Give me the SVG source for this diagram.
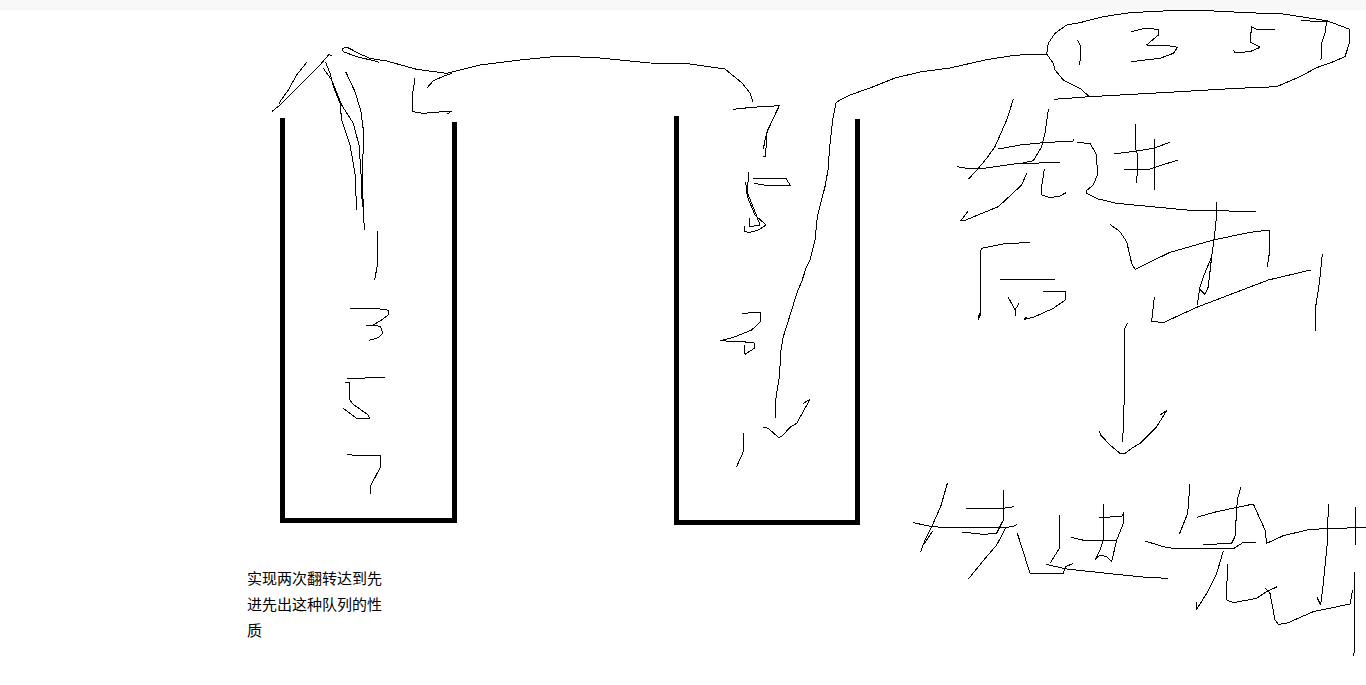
<svg xmlns="http://www.w3.org/2000/svg" width="1366" height="685" viewBox="0 0 1366 685">
<style>
.ink{fill:none;stroke:#000;stroke-width:1;vector-effect:non-scaling-stroke;stroke-linejoin:round;shape-rendering:crispEdges}
.bucket{fill:none;stroke:#000;stroke-width:5;stroke-linejoin:miter;shape-rendering:crispEdges}
.note{font-family:"Noto Sans CJK SC","Liberation Sans",sans-serif;font-size:15px;fill:#000}
</style>
<rect x="0" y="0" width="1366" height="685" fill="#fff"/>
<rect x="0" y="0" width="1366" height="10" fill="#f8f8f8"/>
<g id="left-stack">
<path class="bucket" d="M282.500,118V520.300H454.500V122"/>
<g transform="translate(230,220) scale(.33333)">
<path class="ink" d="M442,33L443,130 434,180"/>
<path class="ink" d="M360,265L445,266 476,271 474,285 455,300 430,315 408,316M430,315L452,320 458,340 445,353 418,361"/>
<path class="ink" d="M351,476L435,473 465,472M345,488L358,488 360,540 368,552 415,585 418,595 380,595 340,565"/>
<path class="ink" d="M351,703L372,706 452,706 451,742 423,795 421,822"/>
</g>
</g>
<g id="right-stack">
<path class="bucket" d="M676.500,116V522.500H857.500V119"/>
<g transform="translate(700,90) scale(.33333)">
<path class="ink" d="M100,58L155,52 238,47 225,75 205,115 195,150 190,178M238,47L215,95 200,130 197,200 190,200"/>
<path class="ink" d="M160,265L258,265 272,288 205,287 163,280M145,247L143,310 165,365 180,405 150,410 148,385M137,275L142,320 165,375 198,405 175,420 150,427 132,425 135,408"/>
<path class="ink" d="M127,670L182,667 181,695 155,720 100,742 60,752 110,755 162,757 163,775 135,793 133,765"/>
<path class="ink" d="M130,1030L130,1085 109,1132"/>
</g>
</g>
<g id="bubble-1357" transform="translate(1030,0) scale(.33333)">
<path class="ink" d="M50,162L55,130 75,100 110,75 150,68 220,50 300,38 420,32 530,32 650,38 760,42 890,62 960,88 958,130 945,170 905,187 860,203 810,230 740,260 620,265 450,275 180,290 72,298M50,162L70,190 75,210 100,240 150,265 178,290"/>
<path class="ink" d="M142,120L150,135 152,170 148,195"/>
<path class="ink" d="M303,95L345,85 385,88 385,105 350,135 420,138 443,142 430,160 390,175 303,185"/>
<path class="ink" d="M735,90L680,88 665,80 660,125 690,142 660,155 615,158 610,150"/>
<path class="ink" d="M813,62L890,65 885,100 875,130 873,180"/>
</g>
<g id="connectors">
<g transform="translate(260,30) scale(.33333)">
<path class="ink" d="M140,97L110,135 85,180 60,215 58,222"/>
<path class="ink" d="M35,245L60,225 85,200 150,135 180,105 207,73 215,78"/>
<path class="ink" d="M197,97L210,130 222,175 240,220 245,270 270,345 285,430 290,540"/>
<path class="ink" d="M190,115L215,150 245,225 280,280 297,345 303,430 307,530"/>
<path class="ink" d="M257,125L285,185 303,245 310,300 308,450 310,560 314,600"/>
<path class="ink" d="M358,100L353,95 290,80 250,65 246,55 262,52 300,72 330,85 380,93 470,118 560,130 600,120 660,105"/>
<path class="ink" d="M500,175L520,152 560,135 575,130"/>
<path class="ink" d="M465,145L458,190 457,245 490,250 575,243 563,252"/>
</g>
<path class="ink" d="M480,65L520,60 560,56 600,58 650,63 690,64 725,69 742,83 750,93 753,102"/>
<path class="ink" d="M1047,54L1030,54 1010,56 985,60 950,68 920,72 895,78 870,88 850,95 840,100 836,103"/>
<g transform="translate(700,90) scale(.33333)">
<path class="ink" d="M408,40L398,90 388,180 385,235 375,290 352,380 345,450 330,510 318,535 305,575 292,605 275,660 250,740 243,780 238,860 227,930 226,985"/>
<path class="ink" d="M190,1012L205,1015 235,1042 245,1040 270,1012 290,1000 330,928 310,940"/>
</g>
<g transform="translate(1090,315) scale(.33333)">
<path class="ink" d="M112,25L104,40 102,280 98,380"/>
<path class="ink" d="M27,347L32,360 60,390 90,415 105,415 125,400 150,385 200,335 230,287 210,300"/>
</g>
</g>
<g id="handwriting-top" transform="translate(940,90) scale(.33333)">
<path class="ink" d="M220,28L200,90 165,170 140,205 115,235 85,268"/>
<path class="ink" d="M52,230L85,236 130,235 235,220 360,218"/>
<path class="ink" d="M175,177L240,165 310,158 400,153 400,147"/>
<path class="ink" d="M325,58L315,130 305,170 280,212 235,222"/>
<path class="ink" d="M260,250L245,285 175,350 70,393 62,393 85,362"/>
<path class="ink" d="M313,238L305,290 305,315 330,323 360,318 378,308"/>
<path class="ink" d="M412,158L450,160 470,195 472,255 460,285 438,303 440,310 475,327 530,340 740,360 947,365"/>
<path class="ink" d="M586,102L588,180 594,200 590,278"/>
<path class="ink" d="M643,147L645,230 645,300"/>
<path class="ink" d="M522,192L590,183 640,175 690,157"/>
<path class="ink" d="M553,240L620,240 650,230 715,210"/>
<path class="ink" d="M830,337L828,395 822,450 815,500 805,590 795,613 778,597 790,560 815,500M772,645L780,590"/>
<path class="ink" d="M510,403L540,425 560,455 575,520 585,538 690,487 820,450 930,427 988,420 988,490 982,530"/>
<path class="ink" d="M643,620L635,695 672,697 770,652 985,570 1112,540"/>
<path class="ink" d="M1147,492L1138,580 1127,650 1126,722"/>
<path class="ink" d="M270,457L190,462 125,475 121,485 123,650 122,672 115,688 118,670"/>
<path class="ink" d="M180,570L345,568"/>
<path class="ink" d="M310,604L377,604 376,630 340,655 280,682 252,688 262,680"/>
<path class="ink" d="M205,622L225,660 237,640M225,660L226,678"/>
</g>
<g id="handwriting-bottom" transform="translate(900,470) scale(.33333)">
<path class="ink" d="M142,40L122,110 95,170 75,210 62,245M98,183L70,225"/>
<path class="ink" d="M40,158L95,170 130,172 300,173 340,170 350,163"/>
<path class="ink" d="M198,115L310,115 342,110"/>
<path class="ink" d="M310,60L310,150 290,190 250,193 186,186"/>
<path class="ink" d="M318,172L290,225 260,260 205,327"/>
<path class="ink" d="M352,190L365,230 390,310 490,310 497,290 520,280"/>
<path class="ink" d="M438,283L500,297 640,312 740,322 805,325"/>
<path class="ink" d="M478,135L478,235 450,280"/>
<path class="ink" d="M514,202L560,213 650,212"/>
<path class="ink" d="M610,102L610,210 600,240 587,268 600,255 620,260 635,275 650,210 672,155 672,125 665,140 598,142"/>
<path class="ink" d="M870,42L863,130 838,193"/>
<path class="ink" d="M1022,52L1012,90 1005,200 995,220 910,224"/>
<path class="ink" d="M890,142L950,125 1060,102 1095,180 1100,220 1150,197 1230,178 1398,172"/>
<path class="ink" d="M735,213L790,230 825,236 1000,236 1030,217 1067,217"/>
<path class="ink" d="M970,243L950,310 920,370 890,418 890,395"/>
<path class="ink" d="M982,283L980,390 1000,398 1070,385 1100,365 1132,350"/>
<path class="ink" d="M1097,355L1110,370 1125,450 1135,463 1160,460 1240,425 1350,402 1358,360"/>
<path class="ink" d="M1285,102L1282,220 1270,340 1262,405 1250,380"/>
<path class="ink" d="M1366,112L1366,225"/>
<path class="ink" d="M1364,305L1362,557"/>
</g>
<g id="note">
<text class="note" x="247" y="584">实现两次翻转达到先</text>
<text class="note" x="247" y="610">进先出这种队列的性</text>
<text class="note" x="247" y="636">质</text>
</g>
</svg>
